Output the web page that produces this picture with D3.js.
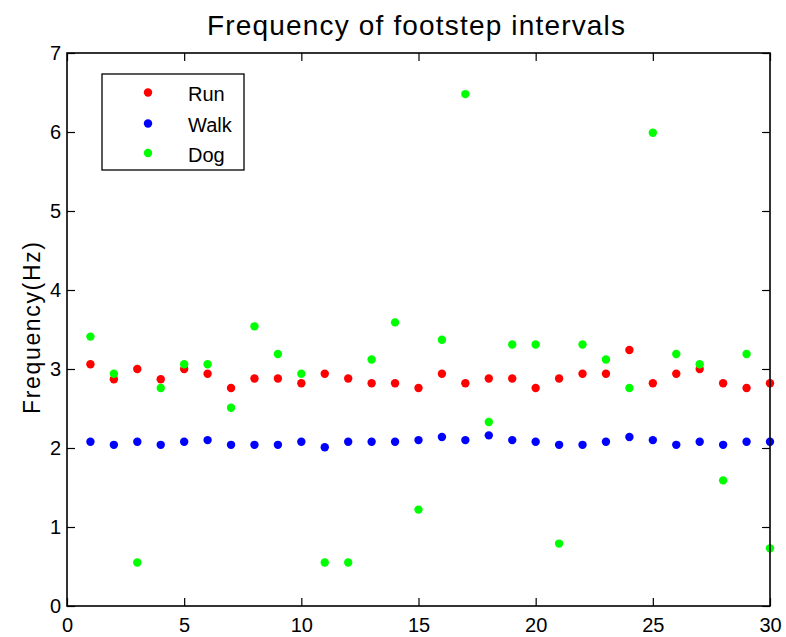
<!DOCTYPE html>
<html>
<head>
<meta charset="utf-8">
<script src="https://cdn.jsdelivr.net/npm/d3@7"></script>
<style>
  html, body { margin: 0; padding: 0; background: #fff; }
  svg { display: block; font-family: "Liberation Sans", Arial, sans-serif; }
</style>
</head>
<body>
<svg id="chart" width="786" height="637"></svg>
<script>
// Trial index (footstep interval number)
const trials = d3.range(1, 31);

// Frequency (Hz) of each footstep interval, per subject
const runFreq = [3.06, 2.87, 3.00, 2.87, 3.00, 2.94, 2.76, 2.88, 2.88, 2.82,
                 2.94, 2.88, 2.82, 2.82, 2.76, 2.94, 2.82, 2.88, 2.88, 2.76,
                 2.88, 2.94, 2.94, 3.24, 2.82, 2.94, 3.00, 2.82, 2.76, 2.82];
const walkFreq = [2.08, 2.04, 2.08, 2.04, 2.08, 2.10, 2.04, 2.04, 2.04, 2.08,
                  2.01, 2.08, 2.08, 2.08, 2.10, 2.14, 2.10, 2.16, 2.10, 2.08,
                  2.04, 2.04, 2.08, 2.14, 2.10, 2.04, 2.08, 2.04, 2.08, 2.08];
const dogFreq = [3.41, 2.94, 0.55, 2.76, 3.06, 3.06, 2.51, 3.54, 3.19, 2.94,
                 0.55, 0.55, 3.12, 3.59, 1.22, 3.37, 6.48, 2.33, 3.31, 3.31,
                 0.79, 3.31, 3.12, 2.76, 5.99, 3.19, 3.06, 1.59, 3.19, 0.73];

const seriesNames = ["Run", "Walk", "Dog"];
const seriesColors = ["#ff0000", "#0000ff", "#00ff00"];
const seriesValues = [runFreq, walkFreq, dogFreq];

const xTicks = [0, 5, 10, 15, 20, 25, 30];
const yTicks = [0, 1, 2, 3, 4, 5, 6, 7];

const titleText = "Frequency of footstep intervals";
const yLabelText = "Frequency(Hz)";

const svg = d3.select("#chart");
const margin = { left: 67, right: 16, top: 53, bottom: 31 };
const W = 786, H = 637;
const x0 = margin.left, x1 = W - margin.right;
const y0 = H - margin.bottom, y1 = margin.top;

const x = d3.scaleLinear().domain([0, 30]).range([x0, x1]);
const y = d3.scaleLinear().domain([0, 7]).range([y0, y1]);

const tickLen = 8;
const fontSize = 20;
const fmt = d3.format("d");

// Data markers (drawn first so the axes box sits on top)
const plot = svg.append("g");
seriesValues.forEach((vals, si) => {
  plot.append("g")
    .selectAll("circle")
    .data(trials.map((t, i) => ({ t, v: vals[i] })))
    .join("circle")
    .attr("cx", d => x(d.t))
    .attr("cy", d => y(d.v))
    .attr("r", 4.2)
    .attr("fill", seriesColors[si]);
});

// Axes: bottom/left with labels, top/right ticks only (boxed)
function styleAxis(g) {
  g.attr("font-size", fontSize).attr("font-family", "Liberation Sans, Arial, sans-serif");
  g.select(".domain").remove();
  g.selectAll(".tick line").attr("stroke", "#000").attr("stroke-width", 1.2);
  g.selectAll(".tick text").attr("fill", "#000");
}

svg.append("g")
  .attr("transform", `translate(0,${y0})`)
  .call(d3.axisBottom(x).tickValues(xTicks).tickFormat(fmt).tickSize(-tickLen).tickPadding(12))
  .call(styleAxis);

svg.append("g")
  .attr("transform", `translate(0,${y1})`)
  .call(d3.axisTop(x).tickValues(xTicks).tickSize(-tickLen).tickFormat(""))
  .call(styleAxis);

svg.append("g")
  .attr("transform", `translate(${x0},0)`)
  .call(d3.axisLeft(y).tickValues(yTicks).tickFormat(fmt).tickSize(-tickLen).tickPadding(6))
  .call(styleAxis);

svg.append("g")
  .attr("transform", `translate(${x1},0)`)
  .call(d3.axisRight(y).tickValues(yTicks).tickSize(-tickLen).tickFormat(""))
  .call(styleAxis);

// Box frame
svg.append("rect")
  .attr("x", x0).attr("y", y1)
  .attr("width", x1 - x0).attr("height", y0 - y1)
  .attr("fill", "none").attr("stroke", "#000").attr("stroke-width", 1.6);

// Title
svg.append("text")
  .attr("x", 416).attr("y", 35)
  .attr("text-anchor", "middle")
  .attr("font-size", 28)
  .attr("textLength", 418)
  .attr("lengthAdjust", "spacing")
  .attr("fill", "#000")
  .text(titleText);

// Y axis label
svg.append("text")
  .attr("transform", `translate(40,328) rotate(-90)`)
  .attr("text-anchor", "middle")
  .attr("font-size", 23)
  .attr("textLength", 172)
  .attr("lengthAdjust", "spacing")
  .attr("fill", "#000")
  .text(yLabelText);

// Legend
const legend = svg.append("g");
legend.append("rect")
  .attr("x", 102).attr("y", 74)
  .attr("width", 142).attr("height", 96)
  .attr("fill", "#fff").attr("stroke", "#000").attr("stroke-width", 1.3);

const legendRows = [92.5, 123.5, 153];
seriesNames.forEach((name, i) => {
  legend.append("circle")
    .attr("cx", 148).attr("cy", legendRows[i])
    .attr("r", 4.2).attr("fill", seriesColors[i]);
  legend.append("text")
    .attr("x", 188).attr("y", legendRows[i] + 8.5)
    .attr("font-size", fontSize)
    .attr("fill", "#000")
    .text(name);
});
</script>
</body>
</html>
